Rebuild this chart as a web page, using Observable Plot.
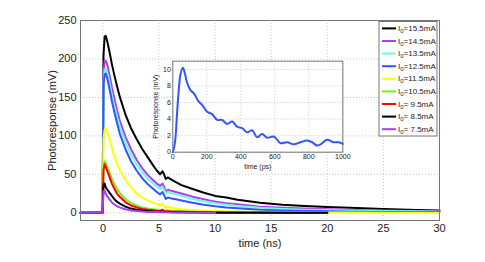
<!DOCTYPE html>
<html><head><meta charset="utf-8">
<script src="https://cdn.jsdelivr.net/npm/d3@7"></script>
<script src="https://cdn.jsdelivr.net/npm/@observablehq/plot@0.6"></script>
<style>
body{margin:0;background:#fff;}
#wrap{position:relative;width:485px;height:262px;font-family:"Liberation Sans",Arial,sans-serif;}
#wrap svg{position:absolute;left:0;top:0;overflow:visible;}
</style>
</head><body><div id="wrap"></div>
<script>
// time grid (ns)
const times = [-2, -0.03, 0.05, 0.15, 0.25, 0.4, 0.6, 0.8, 1, 1.25, 1.5, 2, 2.5, 3, 3.5, 4, 4.5, 4.8, 5.1, 5.3, 5.45, 5.6, 5.8, 6, 6.5, 7, 8, 9, 10, 11, 12, 14, 16, 18, 20, 22, 25, 28, 30];
const currents = ["15.5", "14.5", "13.5", "12.5", "11.5", "10.5", " 9.5", " 8.5", " 7.5"];
const colors = ["#000000", "#b43cf0", "#66ffe6", "#3355ff", "#ffff00", "#77ee22", "#ff0000", "#000000", "#a040f8"];
const i155 = [0, 0, 205, 229, 230, 222, 208, 193, 180, 165, 151, 128, 110, 96, 83, 72, 61, 55, 50, 54, 50, 44, 46, 44, 40, 36, 31, 26, 22, 20, 17, 13, 10.5, 9, 7.5, 6.5, 4.8, 3.5, 3];
const i145 = [0, 0, 180, 197, 198, 192, 178, 163, 150, 134, 120, 99, 83, 69, 58, 49, 42, 38, 35, 38, 34, 28, 30, 29, 27, 25, 21, 17.5, 14.5, 12.5, 11, 8, 6.5, 5.5, 4.5, 4, 3, 2.5, 2];
const i135 = [0, 0, 170, 186, 187, 181, 168, 153, 140, 125, 112, 92, 76, 63, 53, 44, 38, 34, 31, 34, 30, 25, 27, 26, 24, 22, 18, 15, 12.5, 10.5, 9, 6.5, 5, 4, 3.5, 3, 2.5, 2, 1.5];
const i125 = [0, 0, 165, 180, 181, 174, 160, 145, 132, 117, 103, 83, 67, 55, 45, 37, 31, 27, 24, 27, 23, 18, 20, 19, 17.5, 16, 13, 10.5, 8.5, 7, 6, 4, 3, 2.5, 2, 1.5, 1.2, 1, 1];
const i115 = [0, 0, 95, 108, 110, 105, 95, 85, 74, 64, 56, 43, 33, 25, 20, 16, 13, 11, 9.5, 12, 8.5, 6.5, 7.5, 7, 5.5, 4.5, 3.5, 2.8, 2.2, 2, 1.8, 1.5, 1.2, 1, 0.5, 0.3, 0.2, 0, 0];
const i105 = [0, 0, 60, 67, 65, 60, 52, 44, 38, 31, 26, 18, 13, 9.5, 7, 5.5, 4.5, 4, 3.5, 4.5, 3.5, 3, 3, 2.8, 2.4, 2, 1.5, 1.2, 1, 0.8, 0.7, 0.5, 0.4, 0.3, 0.2, null, null, null, null];
const i95 = [0, 0, 55, 63, 60, 54, 46, 38, 32, 25, 21, 14, 9.5, 7, 5, 4, 3.2, 2.8, 2.5, 3.5, 2.5, 2, 2, 1.8, 1.5, 1.3, 1, 0.8, 0.6, 0.5, 0.4, 0.3, 0.2, 0.1, 0, null, null, null, null];
const i85 = [0, 0, 36, 38, 33, 30, 26, 22, 18, 14.5, 12, 8, 5.5, 4, 3, 2.3, 1.8, 1.5, 1.3, 1.8, 1.2, 1, 1, 0.9, 0.7, 0.6, 0.4, 0.3, 0.2, 0.1, 0, 0, 0, 0, 0, null, null, null, null];
const i75 = [0, 0, 28, 29, 25, 21, 17, 13.5, 11, 8.5, 7, 4.5, 3, 2.2, 1.6, 1.2, 1, 0.9, 0.8, 1, 0.7, 0.6, 0.6, 0.5, 0.4, 0.3, 0.2, 0.1, 0, null, null, null, null, null, null, null, null, null, null];
// inset (ps, mV)
const insetT = [0, 8, 16, 25, 35, 45, 59, 70, 84, 104, 124, 153, 173, 202, 231, 261, 290, 320, 349, 378, 408, 437, 467, 496, 525, 555, 594, 633, 673, 712, 751, 790, 820, 849, 869, 908, 947, 976, 1000];
const insetV = [0, 0.6, 1.8, 4.7, 7.5, 9.4, 10.2, 9.6, 8.4, 7.5, 7.1, 6.1, 5.7, 4.9, 4.6, 3.9, 3.9, 3.4, 3.7, 3.1, 2.9, 2.4, 2.65, 1.8, 2.2, 1.75, 1.9, 1.1, 1.2, 0.95, 1.2, 1.4, 1.2, 0.8, 0.95, 1.5, 1.2, 1.2, 1.0];
const xTicks = [0, 5, 10, 15, 20, 25, 30];
const yTicks = [0, 50, 100, 150, 200, 250];
const insetXTicks = [0, 200, 400, 600, 800, 1000];
const insetYTicks = [0, 2, 4, 6, 8, 10];

const series = [i155, i145, i135, i125, i115, i105, i95, i85, i75];
const lineMarks = series.map((vals, k) => {
  const rows = [];
  vals.forEach((v, j) => { if (v != null) rows.push({t: times[j], v}); });
  return Plot.line(rows, {x: "t", y: "v", stroke: colors[k], strokeWidth: 2, strokeLinejoin: "round"});
});
const grid = {stroke: "#c8c8c8", strokeOpacity: 1, strokeDasharray: "1,2"};
const font = "Liberation Sans, Arial, sans-serif";

const main = Plot.plot({
  width: 485, height: 262,
  marginLeft: 80, marginRight: 46, marginTop: 20, marginBottom: 42,
  style: {fontFamily: font, fontSize: "11px", color: "#222", background: "transparent"},
  x: {domain: [-2, 30]},
  y: {domain: [-10, 250]},
  marks: [
    Plot.gridX(xTicks, grid),
    Plot.gridY(yTicks, grid),
    ...lineMarks,
    Plot.axisX(xTicks, {tickSize: 0, tickPadding: 4, label: "time (ns)", labelAnchor: "center", labelArrow: false, labelOffset: 26}),
    Plot.axisY(yTicks, {tickSize: 0, tickPadding: 4, label: "Photoresponse (mV)", labelAnchor: "center", labelArrow: false, labelOffset: 32}),
    Plot.frame({stroke: "#777"})
  ]
});
const wrap = document.getElementById("wrap");
wrap.appendChild(main);

const insetRows = insetT.map((t, i) => ({t, v: insetV[i]}));
const inset = Plot.plot({
  width: 200, height: 120,
  marginLeft: 22.3, marginTop: 5.7, marginRight: 7.7, marginBottom: 23.3,
  style: {fontFamily: font, fontSize: "7px", color: "#222", background: "transparent"},
  x: {domain: [0, 1000]},
  y: {domain: [0, 11]},
  marks: [
    Plot.frame({fill: "white"}),
    Plot.gridX(insetXTicks, grid),
    Plot.gridY(insetYTicks, grid),
    Plot.line(insetRows, {x: "t", y: "v", stroke: "#3355ff", strokeWidth: 2, curve: "catmull-rom"}),
    Plot.axisX(insetXTicks, {tickSize: 0, tickPadding: 2, tickFormat: "d", label: "time (ps)", labelAnchor: "center", labelArrow: false, labelOffset: 17}),
    Plot.axisY(insetYTicks, {tickSize: 0, tickPadding: 2, tickFormat: "d", label: "Photoresponse (mV)", labelAnchor: "center", labelArrow: false, labelOffset: 20}),
    Plot.frame({stroke: "#777"})
  ]
});
inset.style.left = "150px";
inset.style.top = "55px";
wrap.appendChild(inset);

// legend
const leg = d3.create("svg").attr("width", 485).attr("height", 262)
  .style("font-family", font).style("font-size", "8px");
leg.append("rect").attr("x", 379).attr("y", 21.5).attr("width", 58).attr("height", 114.5)
  .attr("fill", "white").attr("stroke", "#777");
currents.forEach((c, i) => {
  const y = 28.4 + i * 12.6;
  leg.append("line").attr("x1", 382).attr("x2", 396).attr("y1", y).attr("y2", y)
    .attr("stroke", colors[i]).attr("stroke-width", 2);
  const t = leg.append("text").attr("x", 398).attr("y", y + 2.5).attr("fill", "#222").style("white-space", "pre");
  t.append("tspan").text("I");
  t.append("tspan").attr("dy", 2).style("font-size", "6px").text("0");
  t.append("tspan").attr("dy", -2).text("=" + c + "mA");
});
wrap.appendChild(leg.node());
</script>
</body></html>
